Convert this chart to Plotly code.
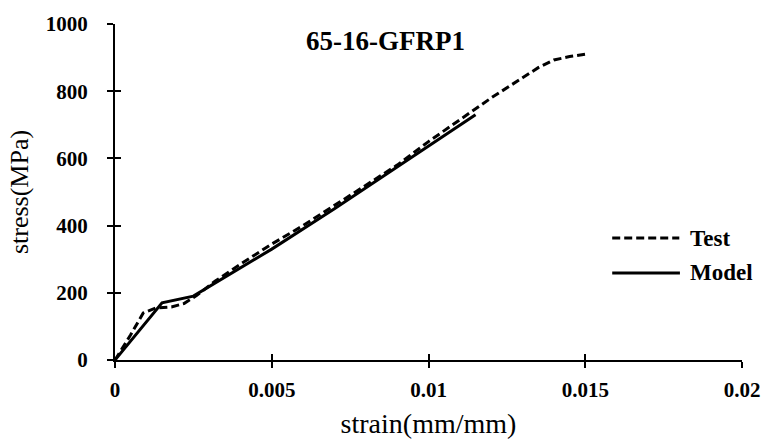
import plotly.graph_objects as go

test_strain = [0.0, 0.0005, 0.0009, 0.0013, 0.0018, 0.0022, 0.0026, 0.0032, 0.004, 0.005, 0.006, 0.007,
               0.008, 0.009, 0.010, 0.011, 0.012, 0.013, 0.0135, 0.014, 0.0145, 0.015]
test_stress = [0, 75, 140, 155, 158, 168, 192, 235, 285, 345, 400, 460,
               520, 580, 650, 715, 780, 840, 870, 893, 903, 910]
model_strain = [0.0, 0.0015, 0.0025, 0.005, 0.007, 0.009, 0.0115]
model_stress = [0, 170, 190, 330, 450, 575, 730]

x_ticks = [0, 0.005, 0.01, 0.015, 0.02]
x_tick_labels = ["0", "0.005", "0.01", "0.015", "0.02"]
y_ticks = [0, 200, 400, 600, 800, 1000]

FONT = "Liberation Serif, Times New Roman, serif"
DASH = "8px,4px"

fig = go.Figure()
fig.add_trace(go.Scatter(x=test_strain, y=test_stress, mode="lines", name="Test",
                         line=dict(color="black", width=3, dash=DASH)))
fig.add_trace(go.Scatter(x=model_strain, y=model_stress, mode="lines", name="Model",
                         line=dict(color="black", width=3)))
# empty trace so the overlay axes (inner half of the crossing ticks) are drawn
fig.add_trace(go.Scatter(x=[], y=[], xaxis="x2", yaxis="y2", showlegend=False))

axis_common = dict(showgrid=False, zeroline=False, showline=True, linecolor="black", linewidth=2,
                   tickcolor="black", tickwidth=2, ticklen=6, automargin=False)

fig.update_layout(
    width=765, height=439,
    margin=dict(l=115, r=23, t=24, b=79),
    paper_bgcolor="white", plot_bgcolor="white",
    showlegend=False,
    xaxis=dict(range=[0, 0.02], tickvals=x_ticks, ticktext=x_tick_labels, ticks="outside",
               tickfont=dict(family=FONT, size=21, color="black", weight="bold"),
               ticklabelstandoff=4,
               title=dict(text="strain(mm/mm)", font=dict(family=FONT, size=28, color="black"), standoff=13),
               **axis_common),
    yaxis=dict(range=[0, 1000], tickvals=y_ticks, ticks="outside",
               tickfont=dict(family=FONT, size=21, color="black", weight="bold"),
               ticklabelstandoff=15,
               title=dict(text="stress(MPa)", font=dict(family=FONT, size=26, color="black"), standoff=10),
               **axis_common),
    xaxis2=dict(range=[0, 0.02], tickvals=x_ticks, ticks="inside", showticklabels=False,
                overlaying="x", anchor="y", side="bottom", **axis_common),
    yaxis2=dict(range=[0, 1000], tickvals=y_ticks, ticks="inside", showticklabels=False,
                overlaying="y", anchor="x", side="left", **axis_common),
    annotations=[
        dict(text="<b>65-16-GFRP1</b>", x=0.431, y=0.949, xref="paper", yref="paper",
             xanchor="center", yanchor="middle", showarrow=False,
             font=dict(family=FONT, size=27, color="black")),
        dict(text="<b>Test</b>", x=0.917, y=0.363, xref="paper", yref="paper",
             xanchor="left", yanchor="middle", showarrow=False, xshift=-2,
             font=dict(family=FONT, size=23, color="black")),
        dict(text="<b>Model</b>", x=0.917, y=0.259, xref="paper", yref="paper",
             xanchor="left", yanchor="middle", showarrow=False, xshift=-2,
             font=dict(family=FONT, size=23, color="black")),
    ],
    shapes=[
        dict(type="line", xref="paper", yref="paper", x0=0.793, x1=0.9, y0=0.363, y1=0.363,
             line=dict(color="black", width=3, dash=DASH)),
        dict(type="line", xref="paper", yref="paper", x0=0.793, x1=0.901, y0=0.259, y1=0.259,
             line=dict(color="black", width=3)),
    ],
)

fig.write_html("out.html")
